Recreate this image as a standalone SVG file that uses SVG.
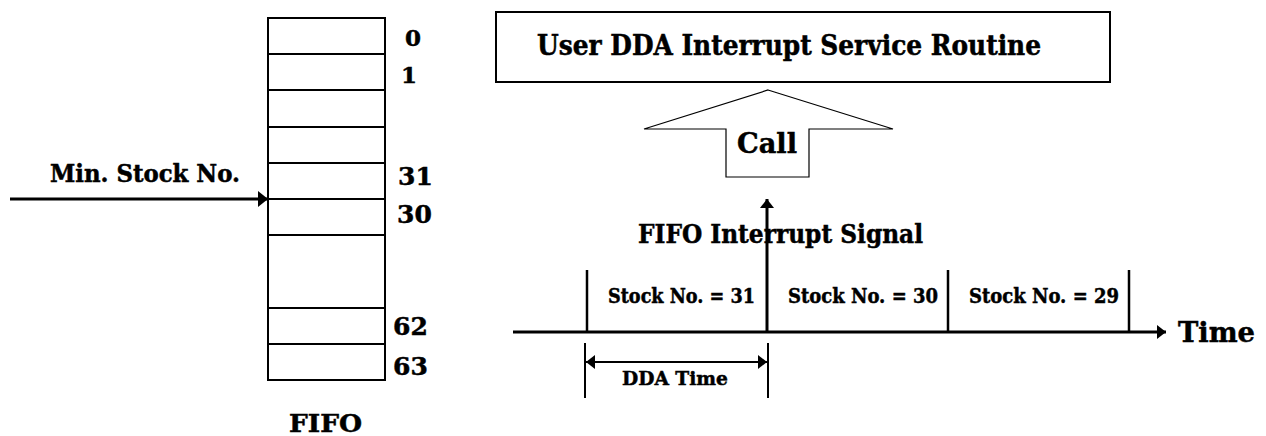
<svg xmlns="http://www.w3.org/2000/svg" width="1266" height="436" viewBox="0 0 1266 436">
<style>
text{font-family:"DejaVu Serif","Liberation Serif",serif;font-weight:bold;fill:#000;stroke:#000;stroke-width:0.5}
.box{fill:#fff;stroke:#000;stroke-width:2}
.row{stroke:#000;stroke-width:2}
.thick{stroke:#000;stroke-width:3;fill:none}
.mid{stroke:#000;stroke-width:2.5;fill:none}
.thin{stroke:#000;stroke-width:2;fill:none}
</style>
<defs>
<marker id="ah" markerUnits="userSpaceOnUse" markerWidth="12" markerHeight="16" refX="10" refY="8" orient="auto">
<path d="M0,0 L10,8 L0,16 Z" fill="#000"/>
</marker>
<marker id="ahs" markerUnits="userSpaceOnUse" markerWidth="10" markerHeight="14" refX="9" refY="7" orient="auto-start-reverse">
<path d="M0,0 L9,7 L0,14 Z" fill="#000"/>
</marker>
</defs>
<g id="fifo">
<rect class="box" x="268" y="18" width="117" height="362"/>
<line class="row" x1="268" y1="54" x2="385" y2="54"/>
<line class="row" x1="268" y1="90" x2="385" y2="90"/>
<line class="row" x1="268" y1="127" x2="385" y2="127"/>
<line class="row" x1="268" y1="163" x2="385" y2="163"/>
<line class="row" x1="268" y1="199" x2="385" y2="199"/>
<line class="row" x1="268" y1="235" x2="385" y2="235"/>
<line class="row" x1="268" y1="308" x2="385" y2="308"/>
<line class="row" x1="268" y1="344" x2="385" y2="344"/>
<text x="405" y="46" font-size="23">0</text>
<text x="401" y="83" font-size="23">1</text>
<text x="398" y="185" font-size="25">31</text>
<text x="397" y="223" font-size="25">30</text>
<text x="393" y="335" font-size="25">62</text>
<text x="393" y="375" font-size="25">63</text>
<text x="289" y="432" font-size="24" textLength="73" lengthAdjust="spacingAndGlyphs">FIFO</text>
</g>
<g id="min-stock-label">
<text x="50" y="182" font-size="24" textLength="190" lengthAdjust="spacingAndGlyphs">Min. Stock No.</text>
</g>
<g id="isr">
<rect class="box" x="496" y="12" width="614" height="70"/>
<text x="537" y="55" font-size="27" textLength="504" lengthAdjust="spacingAndGlyphs">User DDA Interrupt Service Routine</text>
</g>
<g id="call">
<polygon points="768,90 893,129 809,129 809,177 726,177 726,129 644,129" fill="#fff" stroke="#000" stroke-width="1.2"/>
<text x="737" y="153" font-size="28" textLength="60" lengthAdjust="spacingAndGlyphs">Call</text>
</g>
<g id="signal-label">
<text x="638" y="243" font-size="26" textLength="285" lengthAdjust="spacingAndGlyphs">FIFO Interrupt Signal</text>
</g>
<g id="stock-labels">
<text x="608" y="303" font-size="21" textLength="147" lengthAdjust="spacingAndGlyphs">Stock No. = 31</text>
<text x="788" y="303" font-size="21" textLength="150" lengthAdjust="spacingAndGlyphs">Stock No. = 30</text>
<text x="969" y="303" font-size="21" textLength="150" lengthAdjust="spacingAndGlyphs">Stock No. = 29</text>
</g>
<g id="time-label">
<text x="1178" y="342" font-size="28" textLength="77" lengthAdjust="spacingAndGlyphs">Time</text>
</g>
<g id="dda-label">
<text x="622" y="385" font-size="19" textLength="106" lengthAdjust="spacingAndGlyphs">DDA Time</text>
</g>
<g id="connectors">
<line class="thick" x1="10" y1="199" x2="268" y2="199" marker-end="url(#ah)"/>
<line class="thick" x1="513" y1="332" x2="1166" y2="332" marker-end="url(#ahs)"/>
<line class="thick" x1="767" y1="332" x2="767" y2="199" marker-end="url(#ahs)"/>
<line class="mid" x1="587" y1="270" x2="587" y2="332"/>
<line class="mid" x1="948" y1="270" x2="948" y2="332"/>
<line class="mid" x1="1129" y1="270" x2="1129" y2="332"/>
<line class="thin" x1="585" y1="343" x2="585" y2="398"/>
<line class="thin" x1="768" y1="343" x2="768" y2="398"/>
<line class="thin" x1="586" y1="362" x2="767" y2="362" marker-start="url(#ahs)" marker-end="url(#ahs)"/>
</g>
</svg>
